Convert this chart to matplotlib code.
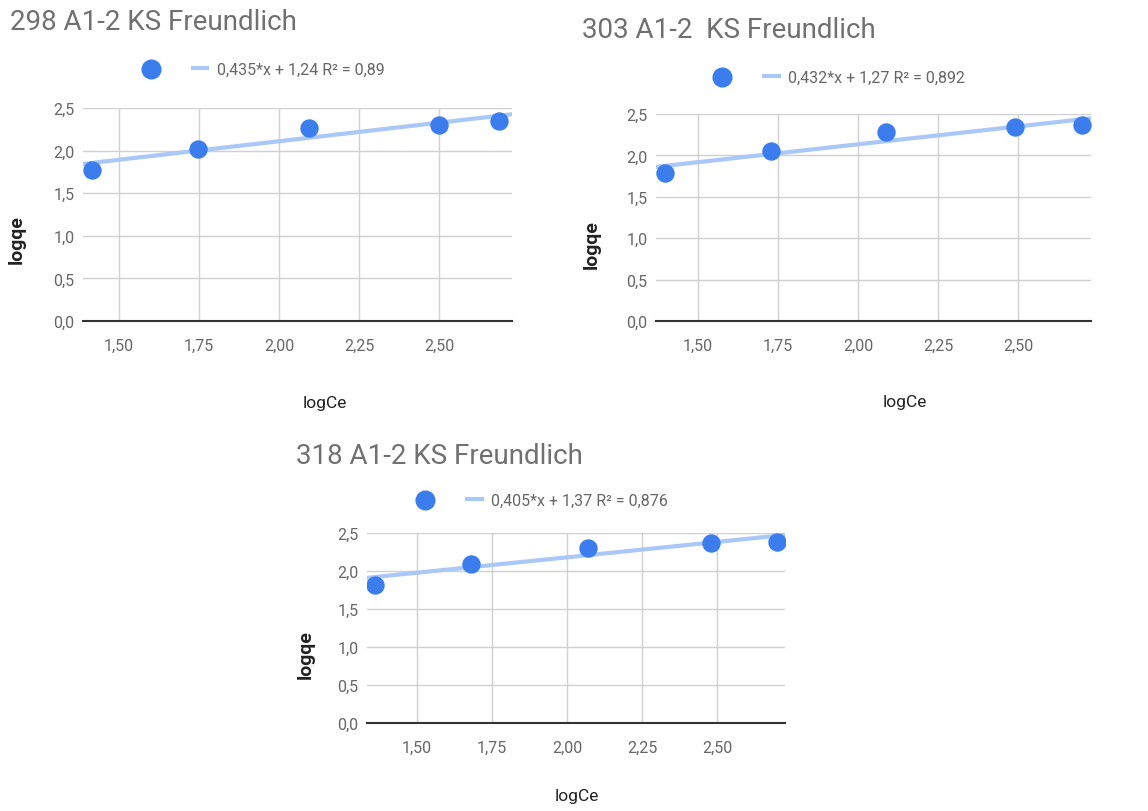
import matplotlib
matplotlib.use("Agg")
import matplotlib.pyplot as plt
import numpy as np

plt.rcParams['font.family'] = ['Roboto', 'DejaVu Sans']

# data
titles = ["298 A1-2 KS Freundlich", "303 A1-2  KS Freundlich", "318 A1-2 KS Freundlich"]

x298 = [1.416, 1.747, 2.094, 2.50, 2.687]
y298 = [1.77, 2.02, 2.26, 2.30, 2.35]
x303 = [1.397, 1.728, 2.087, 2.49, 2.70]
y303 = [1.79, 2.05, 2.28, 2.34, 2.37]
x318 = [1.36, 1.68, 2.07, 2.48, 2.70]
y318 = [1.82, 2.09, 2.30, 2.37, 2.38]

slopes = [0.435, 0.432, 0.405]
intercepts = [1.24, 1.27, 1.37]
fit_labels = ["0,435*x + 1,24 R² = 0,89", "0,432*x + 1,27 R² = 0,892", "0,405*x + 1,37 R² = 0,876"]

xticks = [1.50, 1.75, 2.00, 2.25, 2.50]
xticklabels = ["1,50", "1,75", "2,00", "2,25", "2,50"]
yticks = [0.0, 0.5, 1.0, 1.5, 2.0, 2.5]
yticklabels = ["0,0", "0,5", "1,0", "1,5", "2,0", "2,5"]
xlims = [(1.3875, 2.728), (1.369, 2.728), (1.333, 2.727)]

W, H = 1148, 812
fig = plt.figure(figsize=(W / 100, H / 100), dpi=100)

# axes boxes in pixels: left, top, right, bottom
boxes = [(83, 109, 512, 322), (656, 115, 1091, 322), (367, 534, 785, 724)]
title_pos = [(10, 23), (582, 31), (296, 457)]
legend_pos = [(264, 70), (840, 78), (543, 501)]
ylabel_pos = [(17, 240), (592, 245), (306, 655)]
xlabel_pos = [(325, 404), (905, 403), (577, 797)]

blue = '#3b7ded'
lightblue = '#a9c8f7'

xs = [x298, x303, x318]
ys = [y298, y303, y318]

for i in range(3):
    l, t, r, b = boxes[i]
    ax = fig.add_axes([l / W, 1 - b / H, (r - l) / W, (b - t) / H])
    ax.set_xlim(*xlims[i])
    ax.set_ylim(0, 2.5)
    xx = np.array(xlims[i])
    ln, = ax.plot(xx, slopes[i] * xx + intercepts[i], color=lightblue, lw=3, zorder=2)
    sc = ax.scatter(xs[i], ys[i], s=150, color=blue, zorder=3)
    ax.set_xticks(xticks)
    ax.set_xticklabels(xticklabels)
    ax.set_yticks(yticks)
    ax.set_yticklabels(yticklabels)
    ax.grid(color='#d0d0d0', lw=1)
    ax.set_axisbelow(True)
    for s in ['top', 'right', 'left']:
        ax.spines[s].set_visible(False)
    ax.spines['bottom'].set_color('#333333')
    ax.spines['bottom'].set_linewidth(1.5)
    ax.spines['bottom'].set_zorder(1)
    ax.tick_params(length=0, labelsize=11.5, labelcolor='#666666', pad=12)
    ax.tick_params(axis='y', pad=6)

    fig.text(title_pos[i][0] / W, 1 - title_pos[i][1] / H, titles[i], fontsize=20,
             color='#707070', ha='left', va='center')
    fig.text(ylabel_pos[i][0] / W, 1 - ylabel_pos[i][1] / H, "logqe", fontsize=14,
             color='#222222', rotation=90, ha='center', va='center', fontweight='bold')
    fig.text(xlabel_pos[i][0] / W, 1 - xlabel_pos[i][1] / H, "logCe", fontsize=12.5,
             color='#222222', ha='center', va='center')
    fig.legend([sc, ln], ["", fit_labels[i]], ncol=2, loc='center',
               bbox_to_anchor=(legend_pos[i][0] / W, 1 - legend_pos[i][1] / H),
               frameon=False, fontsize=11.5, labelcolor='#666666',
               handlelength=0.9, handletextpad=0.6, columnspacing=1.6, markerscale=1.1)

fig.savefig("out.png", dpi=100)
